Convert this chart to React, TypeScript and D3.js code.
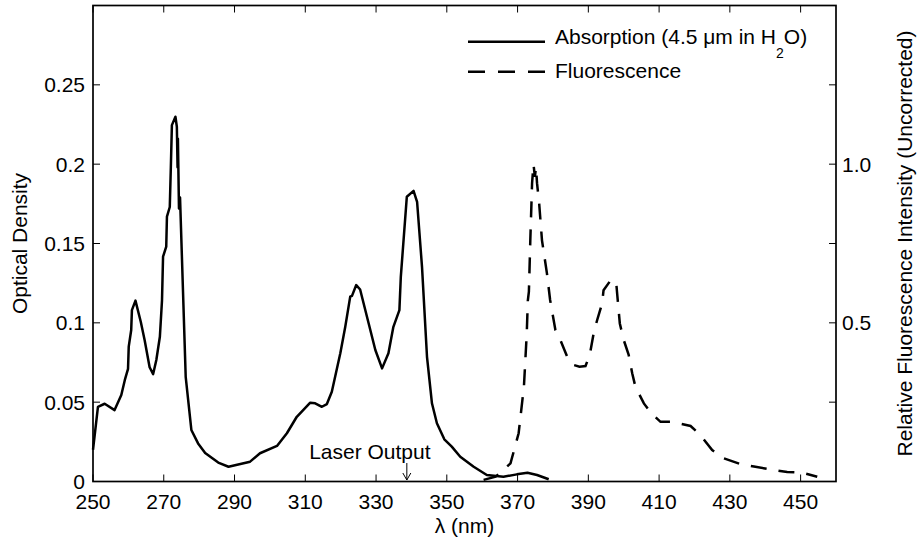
import React from "react";
import * as d3 from "d3";

const absWavelength = [250, 251.4, 253.3, 256.1, 258, 259, 259.9, 260.1, 260.8, 261, 262, 263.5, 264.6, 266, 267, 267.9, 268.9, 269.5, 269.8, 270.7, 270.9, 271.7, 272, 272.3, 273.3, 273.7, 273.9, 274.0, 274.3, 274.6, 276.2, 277.8, 279.7, 281.7, 285.4, 288.3, 294.4, 297.2, 302, 304.8, 307.6, 311.4, 312.8, 314.7, 316.1, 317.5, 319.9, 321.3, 322.7, 323.2, 324.4, 325.5, 327.9, 329.8, 331.7, 333.5, 334.9, 336.6, 337, 338.7, 340.6, 341.6, 343, 344.4, 345.8, 347.2, 349.3, 351.4, 353.8, 357.6, 361.3, 366, 369.8, 372.8, 375.5, 378.8];
const absDensity = [0.02, 0.047, 0.049, 0.045, 0.0545, 0.064, 0.071, 0.085, 0.0955, 0.108, 0.114, 0.1007, 0.089, 0.072, 0.0677, 0.0766, 0.0912, 0.114, 0.1417, 0.148, 0.167, 0.173, 0.198, 0.2246, 0.2299, 0.2236, 0.198, 0.216, 0.172, 0.179, 0.066, 0.0325, 0.024, 0.018, 0.0119, 0.0093, 0.0125, 0.0178, 0.0224, 0.0304, 0.0408, 0.0497, 0.0493, 0.0471, 0.0488, 0.0566, 0.0808, 0.0975, 0.1165, 0.117, 0.1238, 0.121, 0.0997, 0.0829, 0.0713, 0.0808, 0.0975, 0.108, 0.129, 0.1795, 0.1832, 0.1763, 0.135, 0.0786, 0.0493, 0.0367, 0.0266, 0.022, 0.0156, 0.0093, 0.0041, 0.003, 0.0045, 0.0055, 0.0041, 0.0014];

const fluWavelength = [360.4, 363.8, 368, 370.3, 371.8, 372.6, 372.9, 373.2, 373.6, 374.1, 374.5, 374.9, 375.2, 375.5, 376.1, 376.9, 378.3, 379.2, 380.7, 382.1, 384.4, 385.9, 387.5, 389.2, 390.4, 391.5, 392.5, 393.9, 394.3, 396.5, 397.9, 398.1, 398.9, 400, 401.4, 402.4, 403.3, 405.7, 407.8, 410.4, 413.7, 418.9, 421.7, 425, 428.3, 433, 436.8, 441.5, 446.2, 450.4, 454.7];
const fluIntensity = [0.005, 0.015, 0.057, 0.152, 0.3, 0.467, 0.57, 0.598, 0.76, 0.94, 1.0, 0.96, 0.99, 0.94, 0.877, 0.76, 0.656, 0.572, 0.477, 0.446, 0.383, 0.367, 0.362, 0.364, 0.399, 0.467, 0.509, 0.561, 0.603, 0.637, 0.624, 0.598, 0.498, 0.446, 0.399, 0.341, 0.299, 0.246, 0.215, 0.188, 0.188, 0.175, 0.146, 0.099, 0.073, 0.055, 0.047, 0.038, 0.03, 0.028, 0.015];

const xTicks = [250, 270, 290, 310, 330, 350, 370, 390, 410, 430, 450];
const yLeftTicks = [0, 0.05, 0.1, 0.15, 0.2, 0.25, 0.3];
const yLeftLabels = ["0", "0.05", "0.1", "0.15", "0.2", "0.25", ""];
const yRightTicks = [0, 0.25, 0.5, 0.75, 1.0, 1.25, 1.5];
const yRightLabels = ["", "", "0.5", "", "1.0", "", ""];
const laserWavelength = 338.7;

const W = 919;
const H = 544;
const M = { left: 93, right: 836, top: 5.5, bottom: 481.5 };
const FONT = "'Liberation Sans', Arial, Helvetica, sans-serif";
const FS = 21;
const TICK = 7;

export default function App() {
  const x = d3.scaleLinear().domain([250, 460]).range([M.left, M.right]);
  const yL = d3.scaleLinear().domain([0, 0.3]).range([M.bottom, M.top]);
  const yR = d3.scaleLinear().domain([0, 1.5]).range([M.bottom, M.top]);

  const absLine = d3
    .line<number>()
    .x((_, i) => x(absWavelength[i]))
    .y((d) => yL(d))(absDensity) as string;
  const fluLine = d3
    .line<number>()
    .x((_, i) => x(fluWavelength[i]))
    .y((d) => yR(d))(fluIntensity) as string;

  const lx = x(laserWavelength);

  return (
    <svg
      width={W}
      height={H}
      style={{ position: "absolute", left: 0, top: 0, background: "#fff" }}
      fontFamily={FONT}
      fontSize={FS}
    >
      <rect x={0} y={0} width={W} height={H} fill="#fff" />
      <path d={absLine} fill="none" stroke="#000" strokeWidth={2.5} strokeLinejoin="round" />
      <path d={fluLine} fill="none" stroke="#000" strokeWidth={2.5} strokeDasharray="16 12" />

      <rect
        x={M.left}
        y={M.top}
        width={M.right - M.left}
        height={M.bottom - M.top}
        fill="none"
        stroke="#000"
        strokeWidth={1.7}
      />

      {xTicks.map((t) => (
        <g key={"x" + t}>
          <line x1={x(t)} x2={x(t)} y1={M.bottom} y2={M.bottom - TICK} stroke="#000" strokeWidth={1} />
          <line x1={x(t)} x2={x(t)} y1={M.top} y2={M.top + TICK} stroke="#000" strokeWidth={1} />
          <text x={x(t)} y={509} textAnchor="middle">
            {t}
          </text>
        </g>
      ))}

      {yLeftTicks.map((t, i) => (
        <g key={"yl" + t}>
          <line x1={M.left} x2={M.left + TICK} y1={yL(t)} y2={yL(t)} stroke="#000" strokeWidth={1} />
          <text x={M.left - 8} y={yL(t)} dy="0.36em" textAnchor="end">
            {yLeftLabels[i]}
          </text>
        </g>
      ))}

      {yRightTicks.map((t, i) => (
        <g key={"yr" + t}>
          <line x1={M.right} x2={M.right - TICK} y1={yR(t)} y2={yR(t)} stroke="#000" strokeWidth={1} />
          <text x={M.right + 6} y={yR(t)} dy="0.36em" textAnchor="start">
            {yRightLabels[i]}
          </text>
        </g>
      ))}

      <text x={(M.left + M.right) / 2} y={533} textAnchor="middle">
        λ (nm)
      </text>
      <text
        transform={`translate(27, ${(M.top + M.bottom) / 2}) rotate(-90)`}
        textAnchor="middle"
      >
        Optical Density
      </text>
      <text
        transform={`translate(912, ${(M.top + M.bottom) / 2}) rotate(-90)`}
        textAnchor="middle"
      >
        Relative Fluorescence Intensity (Uncorrected)
      </text>

      <line x1={468} x2={545} y1={41.7} y2={41.7} stroke="#000" strokeWidth={2.5} />
      <text x={555} y={43.5}>
        Absorption (4.5 μm in H
        <tspan fontSize={14} dy={14}>2</tspan>
        <tspan dy={-14}>O)</tspan>
      </text>
      <line x1={468} x2={545} y1={71.7} y2={71.7} stroke="#000" strokeWidth={2.5} strokeDasharray="17 13" />
      <text x={555} y={78.3}>
        Fluorescence
      </text>

      <text x={lx - 37} y={459} textAnchor="middle">
        Laser Output
      </text>
      <line x1={lx} x2={lx} y1={463} y2={480} stroke="#000" strokeWidth={1} />
      <path d={`M${lx - 4},${473} L${lx},${480} L${lx + 4},${473}`} fill="none" stroke="#000" strokeWidth={1} />
    </svg>
  );
}
